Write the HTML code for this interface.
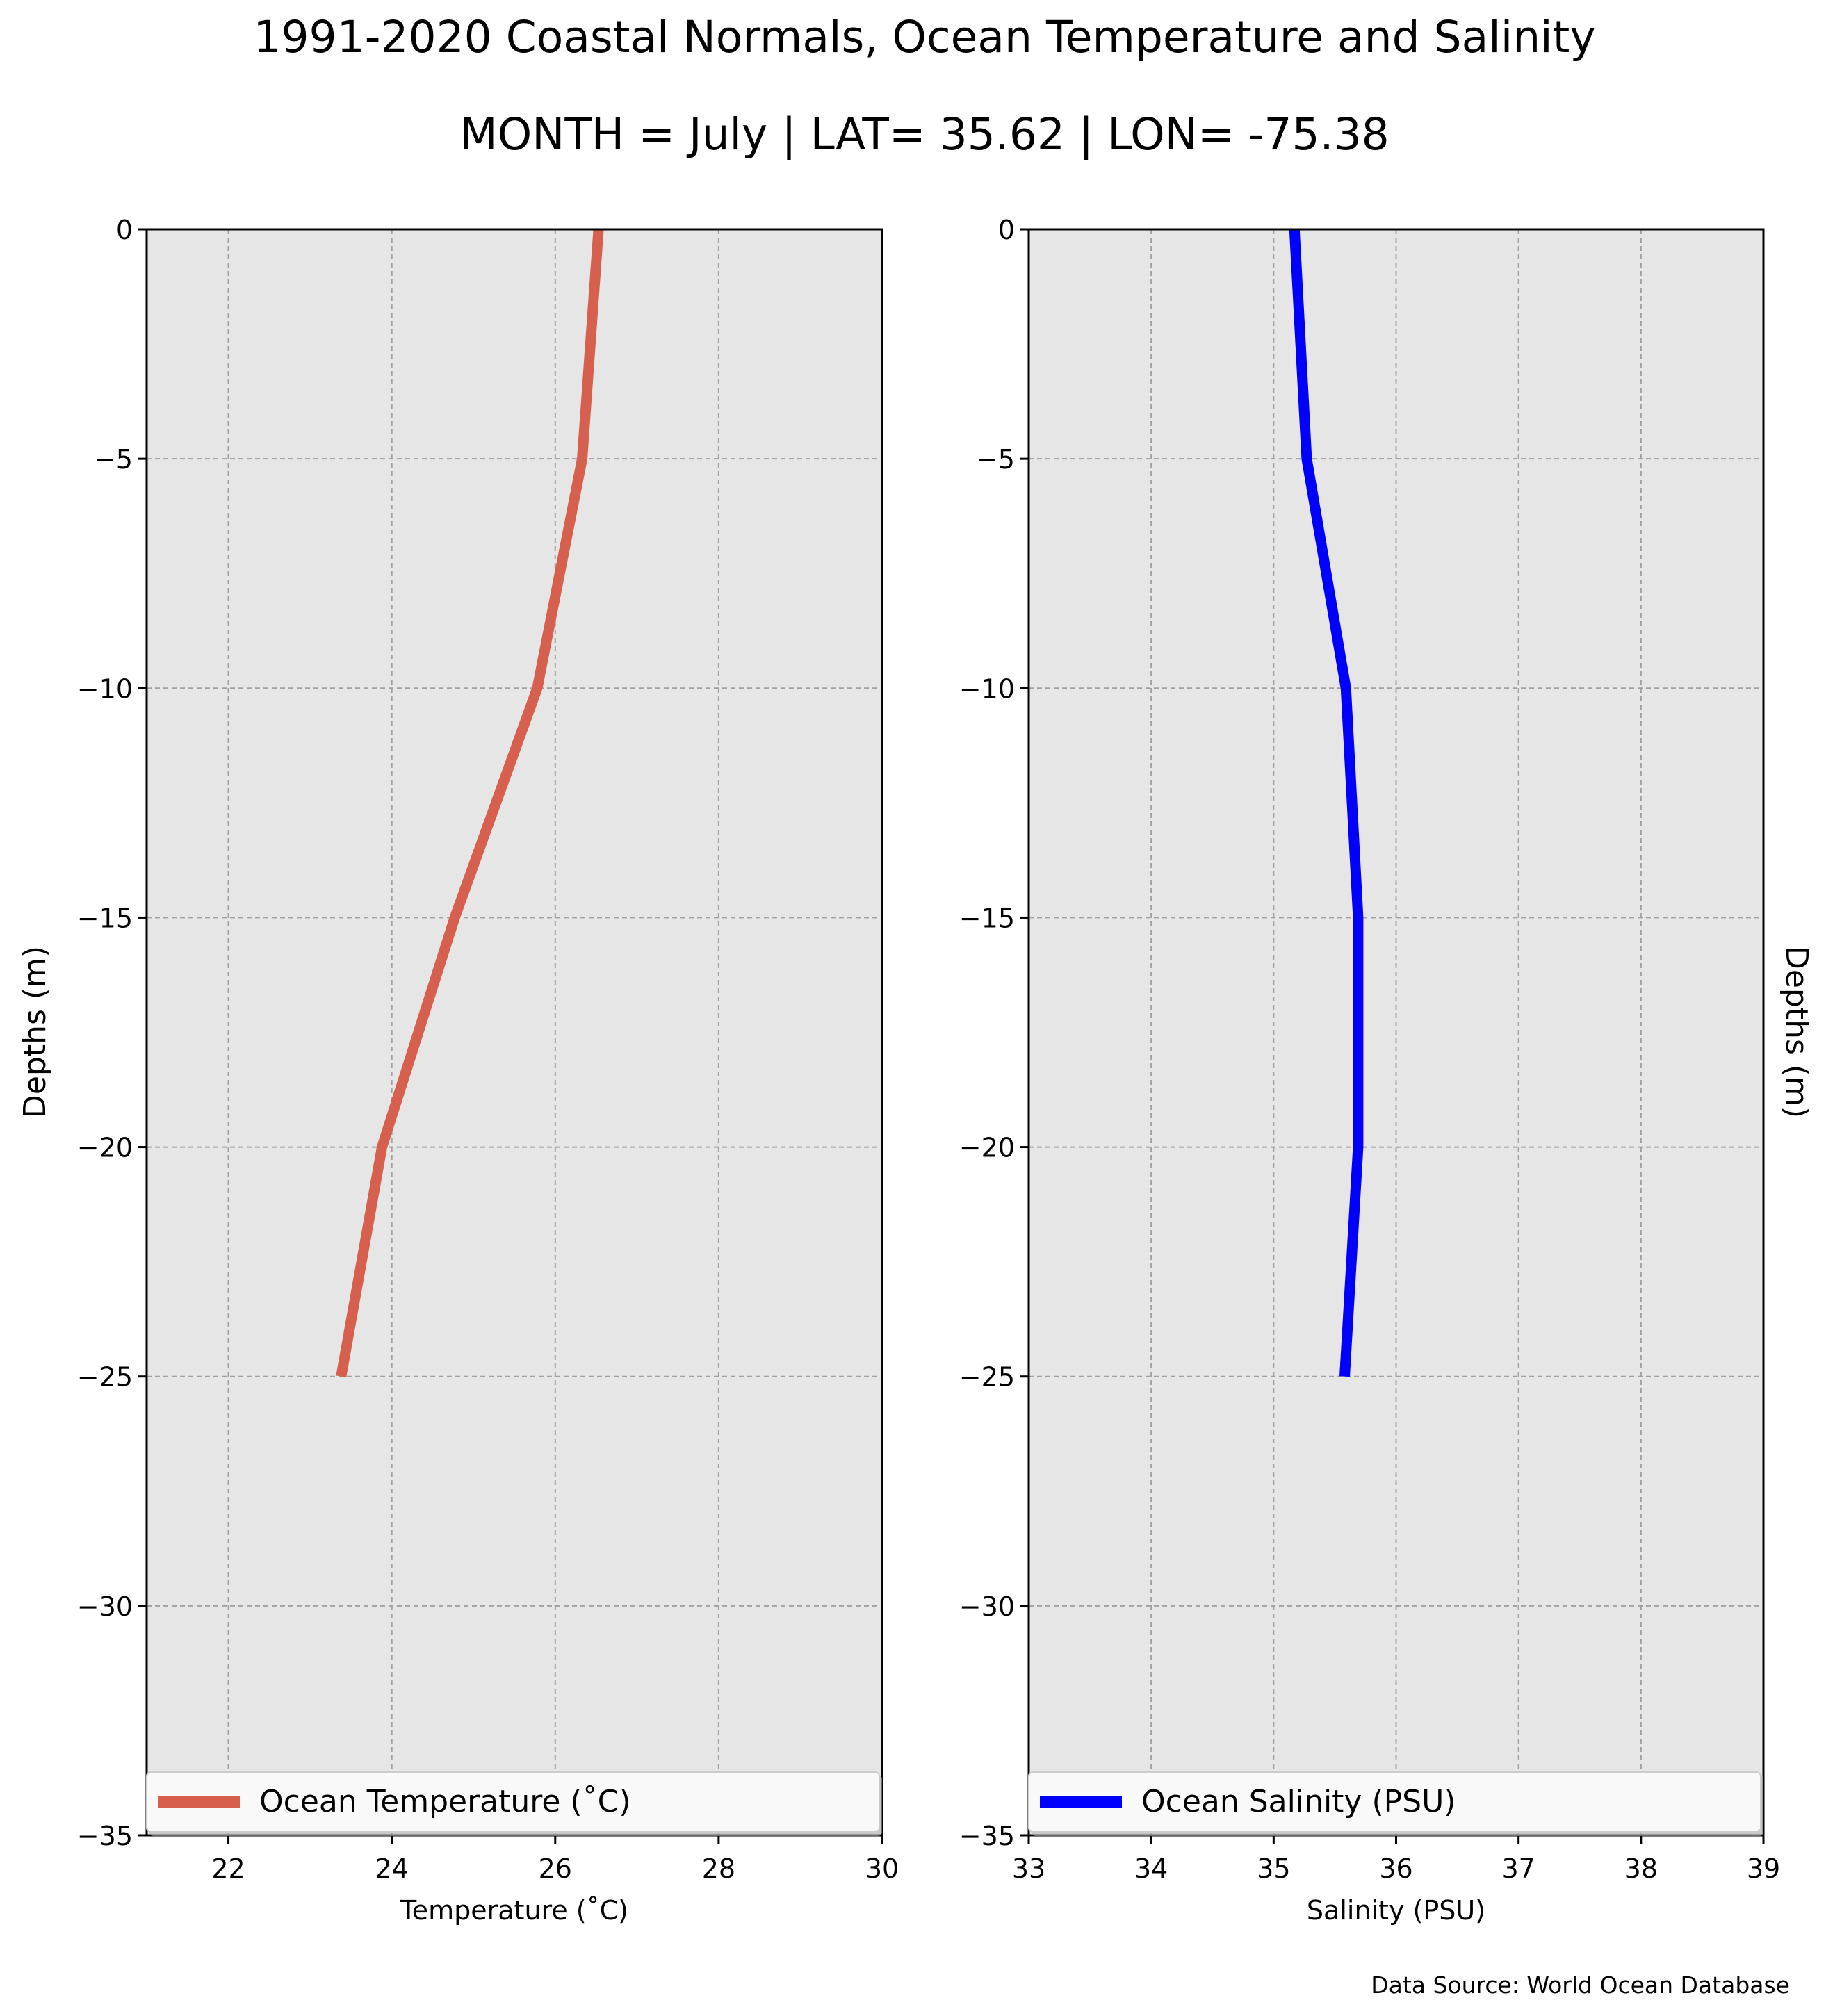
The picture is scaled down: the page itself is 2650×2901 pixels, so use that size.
<!DOCTYPE html>
<html><head><meta charset="utf-8">
<style>
html,body{margin:0;padding:0;background:#fff;}
svg{display:block;font-family:"DejaVu Sans","Liberation Sans",sans-serif;}
</style></head>
<body>
<svg id="chart" width="2650" height="2901" viewBox="0 0 2650 2901" xmlns="http://www.w3.org/2000/svg">
<rect width="2650" height="2901" fill="#fff"/>
<text x="1330" y="75" font-size="63" text-anchor="middle">1991-2020 Coastal Normals, Ocean Temperature and Salinity</text>
<text x="1330" y="215" font-size="63" text-anchor="middle">MONTH = July | LAT= 35.62 | LON= -75.38</text>
<text x="2575" y="2868" font-size="33" text-anchor="end">Data Source: World Ocean Database</text>
<g id="plots"></g>
</svg>
<script>
const depths = [0, -5, -10, -15, -20, -25];
const temperature = [26.53, 26.33, 25.78, 24.77, 23.88, 23.38];
const salinity = [35.17, 35.27, 35.59, 35.69, 35.69, 35.58];
const yTicks = [0, -5, -10, -15, -20, -25, -30, -35];
const tempTicks = [22, 24, 26, 28, 30];
const salTicks = [33, 34, 35, 36, 37, 38, 39];

const NS = "http://www.w3.org/2000/svg";
const plotRoot = document.getElementById('plots');
function mk(tag, attrs, parent) {
  const e = document.createElementNS(NS, tag);
  for (const k in attrs) e.setAttribute(k, attrs[k]);
  (parent || plotRoot).appendChild(e);
  return e;
}
const yTop = 330, yBottom = 2641;
function yScale(d) { return yTop + (0 - d) / 35 * (yBottom - yTop); }

function panel(cfg) {
  const g = mk('g', {});
  
  
  const xs = v => cfg.x0 + (v - cfg.min) / (cfg.max - cfg.min) * (cfg.x1 - cfg.x0);
  const bg = mk('rect', {x: cfg.x0, y: yTop, width: cfg.x1 - cfg.x0, height: yBottom - yTop, fill: '#e6e6e6'}, g);
  
  
  cfg.ticks.forEach(t => {
    const x = xs(t);
    const l = mk('line', {x1: x, x2: x, y1: yTop, y2: yBottom, stroke: '#a0a0a0', 'stroke-width': 2, 'stroke-dasharray': '7,5'}, g);
    
    
  });
  yTicks.forEach(t => {
    const y = yScale(t);
    const l = mk('line', {x1: cfg.x0, x2: cfg.x1, y1: y, y2: y, stroke: '#a0a0a0', 'stroke-width': 2, 'stroke-dasharray': '7,5'}, g);
    
    
  });
  const pts = depths.map((d, i) => xs(cfg.values[i]) + ',' + yScale(d)).join(' ');
  const pl = mk('polyline', {points: pts, fill: 'none', stroke: cfg.color, 'stroke-width': 15, 'stroke-linejoin': 'miter'}, g);
  
  
  const fr = mk('rect', {x: cfg.x0, y: yTop, width: cfg.x1 - cfg.x0, height: yBottom - yTop, fill: 'none', stroke: '#000', 'stroke-width': 3}, g);
  
  
  yTicks.forEach(t => {
    const y = yScale(t);
    const tk = mk('line', {x1: cfg.x0 - 12, x2: cfg.x0, y1: y, y2: y, stroke: '#000', 'stroke-width': 3}, g);
    
    
    const tx = mk('text', {x: cfg.x0 - 20, y: y + 14, 'font-size': 38, 'text-anchor': 'end'}, g);
    
    
    tx.textContent = t === 0 ? '0' : '\u2212' + Math.abs(t);
  });
  cfg.ticks.forEach(t => {
    const x = xs(t);
    const tk = mk('line', {x1: x, x2: x, y1: yBottom, y2: yBottom + 12, stroke: '#000', 'stroke-width': 3}, g);
    
    
    const tx = mk('text', {x: x, y: 2702, 'font-size': 38, 'text-anchor': 'middle'}, g);
    
    
    tx.textContent = t;
  });
  const xl = mk('text', {x: (cfg.x0 + cfg.x1) / 2, y: 2762, 'font-size': 38, 'text-anchor': 'middle'}, g);
  
  
  xl.textContent = cfg.xlabel;
  const lg = mk('g', {}, g);
  
  
  mk('rect', {x: cfg.x0 + 4, y: 2554, width: cfg.x1 - cfg.x0 - 4, height: 88, rx: 6, fill: '#b0b0b0', opacity: 0.6}, lg);
  mk('rect', {x: cfg.x0, y: 2550, width: cfg.x1 - cfg.x0 - 4, height: 86, rx: 6, fill: '#f9f9f9', stroke: '#cccccc', 'stroke-width': 2}, lg);
  const h = mk('line', {x1: cfg.x0 + 16, x2: cfg.x0 + 134, y1: 2593, y2: 2593, stroke: cfg.color, 'stroke-width': 16}, lg);
  
  
  const lt = mk('text', {x: cfg.x0 + 162, y: 2607, 'font-size': 44}, lg);
  
  
  lt.textContent = cfg.legend;
}

panel({name: 'temperature', x0: 211, x1: 1269, min: 21, max: 30, ticks: tempTicks, values: temperature,
  color: '#d6604d', xlabel: 'Temperature (\u02daC)', legend: 'Ocean Temperature (\u02daC)'});
panel({name: 'salinity', x0: 1480, x1: 2537, min: 33, max: 39, ticks: salTicks, values: salinity,
  color: '#0000ff', xlabel: 'Salinity (PSU)', legend: 'Ocean Salinity (PSU)'});

const yl = mk('text', {x: 0, y: 0, 'font-size': 44, 'text-anchor': 'middle', transform: 'translate(65,1485) rotate(-90)'});


yl.textContent = 'Depths (m)';
const yr = mk('text', {x: 0, y: 0, 'font-size': 44, 'text-anchor': 'middle', transform: 'translate(2570,1485) rotate(90)'});


yr.textContent = 'Depths (m)';
</script>
</body></html>
